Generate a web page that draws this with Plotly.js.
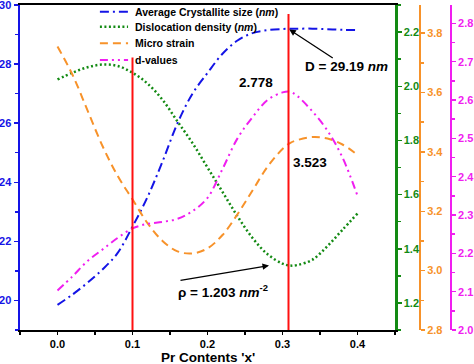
<!DOCTYPE html>
<html>
<head>
<meta charset="utf-8">
<script src="https://cdn.plot.ly/plotly-3.0.1.min.js"></script>
<style>html,body{margin:0;padding:0;background:#fff}#chart{width:474px;height:364px}</style>
</head>
<body>
<div id="chart"></div>
<script>
// Pr content (x) sample positions
const prX = [0, 0.02, 0.04, 0.06, 0.08, 0.1, 0.12, 0.14, 0.16, 0.18, 0.2, 0.22, 0.24, 0.26, 0.28, 0.3, 0.31, 0.32, 0.34, 0.36, 0.38, 0.4];
// Average crystallite size (nm) - left axis
const crystSize = [19.85, 20.2, 20.6, 21.05, 21.6, 22.5, 23.5, 24.7, 26.0, 27.0, 27.7, 28.35, 28.8, 29.05, 29.15, 29.19, 29.2, 29.2, 29.2, 29.18, 29.16, 29.15];
// Dislocation density - green axis
const dislocation = [2.025, 2.05, 2.07, 2.08, 2.075, 2.05, 2.01, 1.95, 1.87, 1.79, 1.70, 1.61, 1.52, 1.44, 1.38, 1.345, 1.338, 1.34, 1.36, 1.41, 1.47, 1.53];
// Micro strain - orange axis
const microStrain = [3.755, 3.66, 3.54, 3.42, 3.32, 3.24, 3.16, 3.1, 3.065, 3.058, 3.075, 3.12, 3.19, 3.27, 3.35, 3.41, 3.43, 3.44, 3.45, 3.445, 3.425, 3.39];
// d-values - magenta axis
const dValues = [2.103, 2.14, 2.18, 2.21, 2.24, 2.265, 2.277, 2.282, 2.29, 2.31, 2.345, 2.42, 2.5, 2.555, 2.6, 2.62, 2.622, 2.61, 2.57, 2.52, 2.45, 2.35];

const seriesNames = ["Average Crystallite size (<i>nm</i>)", "Dislocation density (<i>nm</i>)", "Micro strain", "d-values"];
const xTitle = "Pr Contents 'x'";

// red marker lines: x position and top value (left axis units)
const markerX = [0.1, 0.308];
const markerTop = [28.22, 29.7];

// annotation labels
const labelD = "D = 29.19 <i>nm</i>";
const labelRho = "ρ = 1.203 <i>nm</i><sup>-2</sup>";
const labelD2 = "2.778";
const labelMs = "3.523";

const FONT = "Liberation Sans, Arial, sans-serif";
const BLUE = "#1414e6", GREEN = "#138a13", ORANGE = "#f7922a", MAGENTA = "#f01ef0";
const COLORS = [BLUE, GREEN, ORANGE, MAGENTA];
const DASHES = ["9px,4px,2px,4px", "2px,2.5px", "8px,5px", "8px,4px,2px,4px,2px,4px"];
const WIDTHS = [2, 2.5, 2, 2];
const AXES = ["y", "y2", "y3", "y4"];
const SERIES = [crystSize, dislocation, microStrain, dValues];

const traces = SERIES.map((vals, i) => ({
  x: prX, y: vals, name: seriesNames[i], mode: "lines", yaxis: AXES[i],
  line: {color: COLORS[i], width: WIDTHS[i], dash: DASHES[i], shape: "spline"},
  showlegend: false
}));

const shapes = markerX.map((mx, i) => ({
  type: "line", xref: "x", yref: "y", x0: mx, x1: mx, y0: 19, y1: markerTop[i],
  line: {color: "#ff1010", width: 2}
}));

// custom legend (compact spacing as in the reference)
const legY = [0.979, 0.933, 0.882, 0.831];
const legendAnn = [];
seriesNames.forEach((n, i) => {
  shapes.push({type: "line", xref: "paper", yref: "paper", x0: 0.176, x1: 0.238, y0: legY[i], y1: legY[i],
               line: {color: COLORS[i], width: WIDTHS[i], dash: DASHES[i]}});
  legendAnn.push({xref: "paper", yref: "paper", x: 0.249, y: legY[i], xanchor: "left", yanchor: "middle",
                  text: n, showarrow: false, font: {family: FONT, size: 10.5, color: "#000", weight: "bold"}});
});

const tf = (c) => ({family: FONT, size: 11, color: c, weight: "bold"});
const big = {family: FONT, size: 13.5, color: "#000", weight: "bold"};

const yCommon = {showgrid: false, zeroline: false, showline: true, ticks: "outside", ticklen: 4,
                 tickwidth: 1.5, ticklabeloverflow: "allow"};

const layout = {
  width: 474, height: 364,
  margin: {l: 20, r: 0, t: 5, b: 34},
  paper_bgcolor: "#fff", plot_bgcolor: "#fff",
  font: {family: FONT, color: "#000"},
  showlegend: false,
  xaxis: {domain: [0, 0.826], range: [-0.05, 0.45], dtick: 0.1, tick0: 0, tickformat: ".1f",
          showgrid: false, zeroline: false, showline: true, linecolor: "#000", linewidth: 2,
          mirror: true, ticks: "outside", ticklen: 3, tickcolor: "#000", tickwidth: 1.5,
          minor: {dtick: 0.05, ticks: "outside", ticklen: 3, tickcolor: "#000"},
          tickfont: tf("#000")},
  yaxis: Object.assign({}, yCommon, {range: [19, 30.001], dtick: 2, tick0: 20,
          linecolor: BLUE, linewidth: 2.5, tickcolor: BLUE,
          minor: {dtick: 1, ticks: "outside", ticklen: 3, tickcolor: BLUE}, tickfont: tf(BLUE)}),
  yaxis2: Object.assign({}, yCommon, {overlaying: "y", side: "right", anchor: "x", range: [1.1, 2.3],
           dtick: 0.2, tick0: 1.2, tickformat: ".1f", linecolor: GREEN, linewidth: 2.5, tickcolor: GREEN,
           minor: {dtick: 0.1, ticks: "outside", ticklen: 3, tickcolor: GREEN}, tickfont: tf(GREEN)}),
  yaxis3: Object.assign({}, yCommon, {overlaying: "y", side: "right", anchor: "free", position: 0.881,
           range: [2.8, 3.895], dtick: 0.2, tick0: 2.8, tickformat: ".1f", linecolor: ORANGE, linewidth: 2,
           tickcolor: ORANGE, minor: {dtick: 0.1, ticks: "outside", ticklen: 3, tickcolor: ORANGE},
           tickfont: tf(ORANGE)}),
  yaxis4: Object.assign({}, yCommon, {overlaying: "y", side: "right", anchor: "free", position: 0.949,
           range: [2.0, 2.848], dtick: 0.1, tick0: 2.0, tickformat: ".1f", linecolor: MAGENTA, linewidth: 2,
           tickcolor: MAGENTA, minor: {dtick: 0.05, ticks: "outside", ticklen: 3, tickcolor: MAGENTA},
           tickfont: tf(MAGENTA)}),
  shapes: shapes,
  annotations: legendAnn.concat([
    {xref: "paper", yref: "paper", x: 0.413, y: -0.085, xanchor: "center", yanchor: "middle",
     text: xTitle, showarrow: false, font: {family: FONT, size: 13.5, color: "#000", weight: "bold"}},
    {x: markerX[1], y: 29.19, xref: "x", yref: "y", text: labelD, showarrow: true, arrowhead: 2,
     arrowsize: 1, arrowwidth: 1.3, arrowcolor: "#000", ax: 58, ay: 38, standoff: 1, font: big},
    {x: 0.282, y: 1.338, xref: "x", yref: "y2", text: "", showarrow: true, arrowhead: 2,
     arrowsize: 1, arrowwidth: 1.3, arrowcolor: "#000", ax: -90, ay: 15},
    {x: 0.221, y: 1.243, xref: "x", yref: "y2", text: labelRho, showarrow: false, font: big},
    {x: 0.265, y: 2.646, xref: "x", yref: "y4", text: labelD2, showarrow: false, font: big},
    {x: 0.336, y: 3.365, xref: "x", yref: "y3", text: labelMs, showarrow: false, font: big}
  ])
};

Plotly.newPlot("chart", traces, layout, {displayModeBar: false, staticPlot: true});
</script>
</body>
</html>
